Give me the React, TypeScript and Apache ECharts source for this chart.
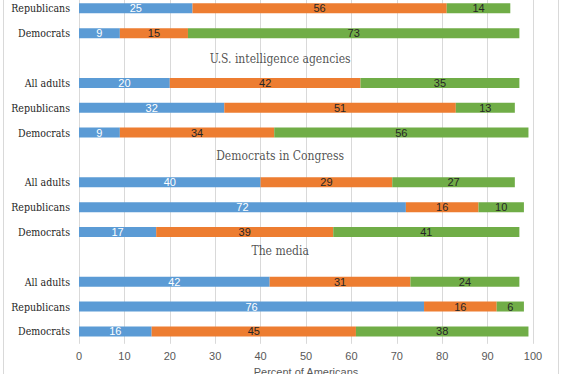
import React, { useEffect, useRef } from "react";
import * as echarts from "echarts";

// Rows visible in the (cropped) chart, top to bottom. Empty strings are the group-title rows.
const categories = [
  "Republicans", "Democrats", "",
  "All adults", "Republicans", "Democrats", "",
  "All adults", "Republicans", "Democrats", "",
  "All adults", "Republicans", "Democrats",
];
const seriesNames = ["Hardly any", "Only some", "A great deal"];
const blueValues = [25, 9, null, 20, 32, 9, null, 40, 72, 17, null, 42, 76, 16];
const orangeValues = [56, 15, null, 42, 51, 34, null, 29, 16, 39, null, 31, 16, 45];
const greenValues = [14, 73, null, 35, 13, 56, null, 27, 10, 41, null, 24, 6, 38];
const groupTitles = ["U.S. intelligence agencies", "Democrats in Congress", "The media"];
const groupTitleRows = [2, 6, 10];
const xTicks = [0, 10, 20, 30, 40, 50, 60, 70, 80, 90, 100];
const axisName = "Percent of Americans";

// layout / style
const COLORS = ["#5B9BD5", "#ED7D31", "#70AD47"];
const LABEL_COLORS = ["#ffffff", "#262626", "#262626"];
const TITLE_X = 44.3;
const TITLE_OFFSETS = [[0, 1], [0, -1.5], [0, -5.5]];
const SHIFT = 40;
const W = 562;
const H = 374 + SHIFT;

export default function App() {
  const ref = useRef<HTMLDivElement>(null);
  useEffect(() => {
    if (!ref.current) return;
    const chart = echarts.init(ref.current, undefined, { renderer: "svg" });
    const valueSets = [blueValues, orangeValues, greenValues];
    const barSeries = valueSets.map((vals, i) => ({
      name: seriesNames[i],
      type: "bar",
      stack: "total",
      barWidth: 10,
      data: vals.map((v) => (v == null ? "-" : v)),
      itemStyle: { color: COLORS[i] },
      label: {
        show: true,
        position: "inside",
        color: LABEL_COLORS[i],
        fontFamily: "Liberation Sans",
        fontSize: 11,
        formatter: (p: any) => String(p.value),
      },
    }));
    const titleSeries = {
      type: "scatter",
      symbolSize: 0,
      silent: true,
      data: groupTitles.map((t, i) => ({
        name: t,
        value: [TITLE_X, groupTitleRows[i]],
        label: { offset: TITLE_OFFSETS[i] },
      })),
      label: {
        show: true,
        position: "inside",
        align: "center",
        formatter: (p: any) => p.name,
        color: "#262626",
        fontFamily: "DejaVu Serif Condensed",
        fontSize: 12,
      },
    };
    chart.setOption({
      animation: false,
      backgroundColor: "#ffffff",
      grid: {
        left: 79,
        right: 29,
        top: 35.9,
        bottom: 30.2,
        containLabel: false,
        outerBoundsMode: "none",
      },
      xAxis: {
        type: "value",
        min: 0,
        max: 100,
        interval: 10,
        axisLine: { show: false },
        axisTick: { show: false },
        splitLine: { show: true, lineStyle: { color: "#d9d9d9", width: 1 } },
        axisLabel: {
          color: "#595959",
          fontFamily: "Liberation Sans",
          fontSize: 11,
          margin: 7,
          formatter: (v: number) => (xTicks.includes(v) ? String(v) : ""),
        },
        name: axisName,
        nameLocation: "middle",
        nameGap: 20,
        nameTextStyle: { color: "#595959", fontFamily: "Liberation Sans", fontSize: 11 },
      },
      yAxis: {
        type: "category",
        inverse: true,
        data: categories,
        axisLine: { show: false },
        axisTick: { show: false },
        splitLine: { show: false },
        axisLabel: {
          color: "#262626",
          fontFamily: "DejaVu Serif Condensed",
          fontSize: 10.5,
          margin: 9,
        },
      },
      graphic: [
        {
          type: "rect",
          silent: true,
          shape: { x: 3.5, y: 0, width: 555, height: H + 50 },
          style: { fill: "none", stroke: "#d9d9d9", lineWidth: 1 },
        },
      ],
      series: [...barSeries, titleSeries],
    });
    return () => chart.dispose();
  }, []);
  return (
    <div
      ref={ref}
      style={{ position: "absolute", left: 0, top: -SHIFT, width: W, height: H }}
    />
  );
}
